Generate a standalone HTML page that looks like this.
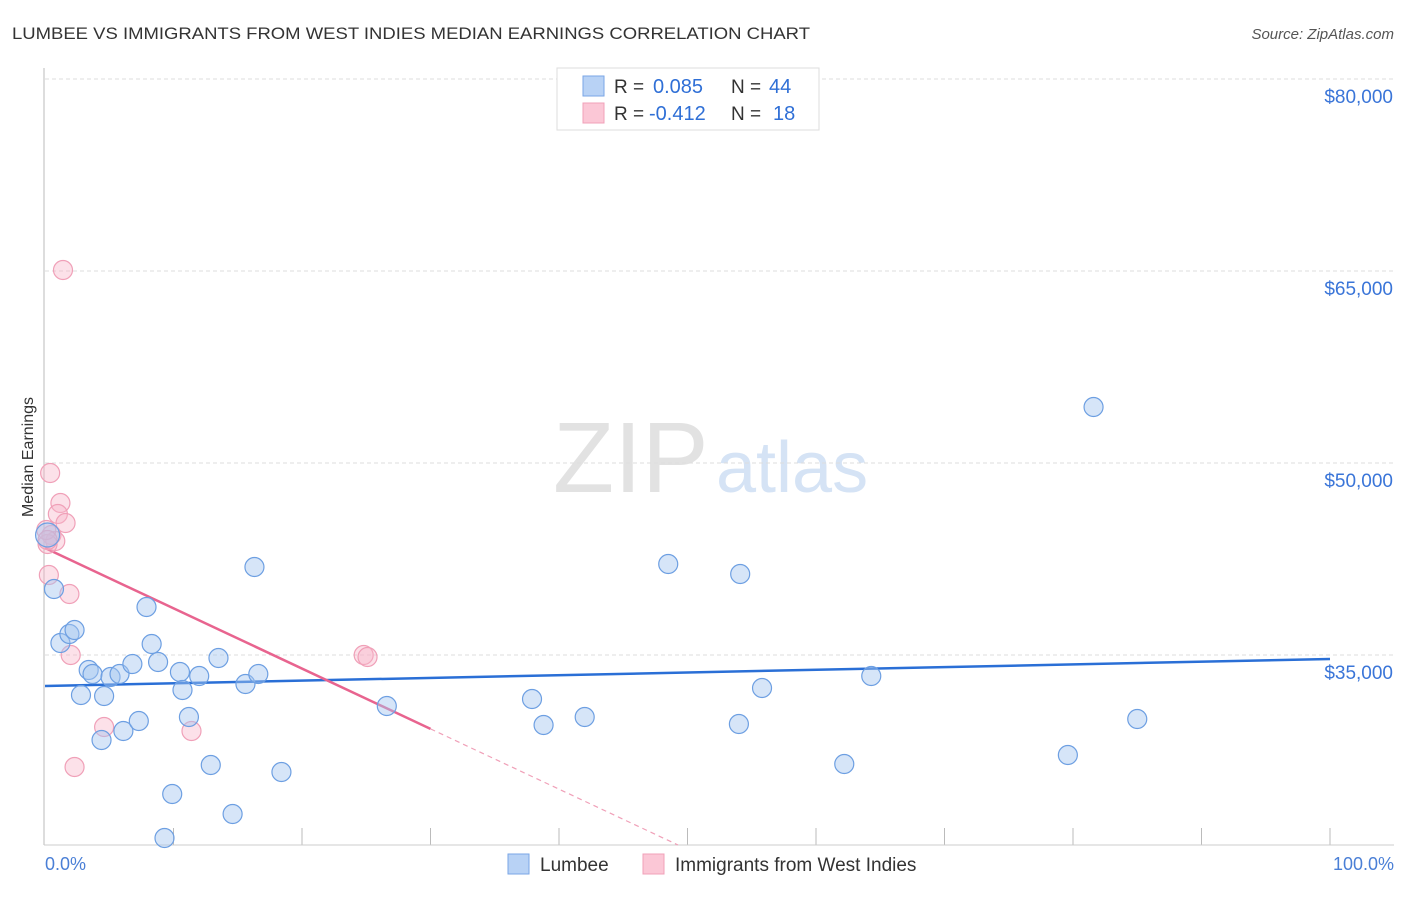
<!DOCTYPE html>
<html><head><meta charset="utf-8"><style>
body{margin:0;background:#fff;font-family:"Liberation Sans",sans-serif;}
svg text{font-family:"Liberation Sans",sans-serif;}
</style></head><body>
<svg id="chart" width="1406" height="892" xmlns="http://www.w3.org/2000/svg">
<text x="12" y="39" font-size="17" fill="#333" textLength="798" lengthAdjust="spacingAndGlyphs">LUMBEE VS IMMIGRANTS FROM WEST INDIES MEDIAN EARNINGS CORRELATION CHART</text>
<text x="1394" y="39" font-size="15" fill="#555" text-anchor="end" font-style="italic">Source: ZipAtlas.com</text>
<g>
<text x="553" y="492" font-size="100" fill="#e2e2e2" font-family="Liberation Serif, serif">ZIP</text>
<text x="716" y="492" font-size="72" fill="#d5e3f5">atlas</text>
</g>
<g id="grid"></g>
<line x1="44" y1="68" x2="44" y2="845" stroke="#bbb"/>
<line x1="44" y1="845" x2="1394" y2="845" stroke="#ccc"/>
<text x="33" y="457" font-size="16" fill="#333" text-anchor="middle" transform="rotate(-90 33 457)">Median Earnings</text>
<text x="45" y="870" font-size="18" fill="#4a7fd6">0.0%</text>
<text x="1394" y="870" font-size="18" fill="#4a7fd6" text-anchor="end">100.0%</text>
<g id="lines"></g>
<g id="points"></g>
<g>
<rect x="557" y="68" width="262" height="62" fill="#fff" stroke="#ddd"/>
<rect x="583" y="76" width="21" height="20" fill="#b8d2f5" stroke="#7aa6e6"/>
<rect x="583" y="103" width="21" height="20" fill="#fbc7d6" stroke="#f0a0b8"/>
<text x="614" y="93" font-size="19" fill="#333">R =</text>
<text x="653" y="93" font-size="20" fill="#2f6fd6">0.085</text>
<text x="731" y="93" font-size="19" fill="#333">N =</text>
<text x="769" y="93" font-size="20" fill="#2f6fd6">44</text>
<text x="614" y="120" font-size="19" fill="#333">R =</text>
<text x="649" y="120" font-size="20" fill="#2f6fd6">-0.412</text>
<text x="731" y="120" font-size="19" fill="#333">N =</text>
<text x="773" y="120" font-size="20" fill="#2f6fd6">18</text>
</g>
<g>
<rect x="508" y="854" width="21" height="20" fill="#b8d2f5" stroke="#7aa6e6"/>
<text x="540" y="871" font-size="19" fill="#333">Lumbee</text>
<rect x="643" y="854" width="21" height="20" fill="#fbc7d6" stroke="#f0a0b8"/>
<text x="675" y="871" font-size="19" fill="#333">Immigrants from West Indies</text>
</g>
</svg>
<script>
const yTicks=[35000,50000,65000,80000];
const yTickLabels=["$35,000","$50,000","$65,000","$80,000"];
const blueX=[0.7,1.2,1.9,2.3,2.8,3.4,3.7,4.6,4.4,5.1,5.8,6.1,6.8,7.3,7.9,8.3,8.8,9.9,9.3,10.5,10.7,11.2,12.0,12.9,13.5,14.6,15.6,16.3,16.6,18.4,26.6,37.9,38.8,42.0,48.5,54.1,54.0,55.8,62.2,64.3,79.6,81.6,85.0,0.2];
const blueY=[40156,35938,36641,36953,31875,33828,33516,31797,28359,33281,33516,29063,34297,29844,38750,35859,34453,24141,20703,33672,32266,30156,33359,26406,34766,22578,32734,41875,33516,25859,31016,31563,29531,30156,42109,41328,29609,32422,26484,33359,27188,54375,30000,44375];
const pinkX=[1.4,0.4,1.2,1.0,1.6,0.5,0.8,0.2,0.3,1.9,2.0,4.6,11.4,2.3,24.8,25.1,0.1,0.2];
const pinkY=[65078,49219,46875,46016,45313,44375,43906,43672,41250,39766,35000,29375,29063,26250,35000,34844,44766,43984];
const blueTrend=[32578,34688];
const pinkTrend=[43359,-471];
const NS="http://www.w3.org/2000/svg";
function sx(p){return 45+p*12.85;}
function sy(v){return 655-(v-35000)/78.125;}
function mk(tag,attrs,parent){const e=document.createElementNS(NS,tag);for(const k in attrs)e.setAttribute(k,attrs[k]);parent.appendChild(e);return e;}
const grid=document.getElementById('grid');
yTicks.forEach((t,i)=>{
 const l=mk('line',{x1:45,x2:1394,y1:sy(t),y2:sy(t),stroke:'#ddd','stroke-dasharray':'4,3'},grid);
 
 
 const tx=mk('text',{x:1393,y:sy(t)+24,'font-size':19,fill:'#3a75d8','text-anchor':'end'},grid);
 tx.textContent=yTickLabels[i];
 
 
});
for(let k=1;k<=10;k++){
 const l=mk('line',{x1:sx(k*10),x2:sx(k*10),y1:828,y2:845,stroke:'#bbb'},grid);
 
 
}
const lines=document.getElementById('lines');
const pts=document.getElementById('points');
for(let i=0;i<pinkX.length;i++){
 const c=mk('circle',{cx:sx(pinkX[i]),cy:sy(pinkY[i]),r:9.5,fill:'rgba(247,180,200,0.4)',stroke:'#f0a0b8','stroke-width':1.2},pts);
 
 
}
for(let i=0;i<blueX.length;i++){
 const c=mk('circle',{cx:sx(blueX[i]),cy:sy(blueY[i]),r:(i==blueX.length-1?12:9.5),fill:'rgba(165,198,240,0.45)',stroke:'#6d9fe2','stroke-width':1.2},pts);
 
 
}
const bl=mk('line',{x1:sx(0),y1:sy(blueTrend[0]),x2:sx(100),y2:sy(blueTrend[1]),stroke:'#2a6fd6','stroke-width':2.5},lines);


const pEnd=(20156-pinkTrend[0])/pinkTrend[1];
const pl=mk('line',{x1:sx(0),y1:sy(pinkTrend[0]),x2:sx(30),y2:sy(pinkTrend[0]+pinkTrend[1]*30),stroke:'#e8648f','stroke-width':2.5},lines);


const pd=mk('line',{x1:sx(30),y1:sy(pinkTrend[0]+pinkTrend[1]*30),x2:sx(pEnd),y2:sy(pinkTrend[0]+pinkTrend[1]*pEnd),stroke:'#f0a0b8','stroke-width':1.2,'stroke-dasharray':'5,4'},lines);


</script>
</body></html>
